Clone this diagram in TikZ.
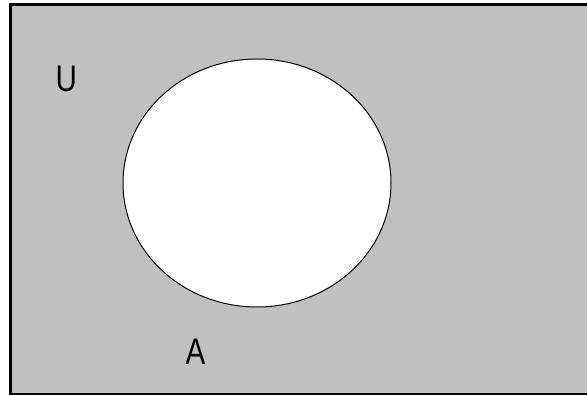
\documentclass[tikz,border=0pt]{standalone}
\usepackage{fontspec}
\setmainfont{Liberation Sans}
\usepackage{xcolor}
\usepackage{tikz}
\usetikzlibrary{positioning}

\definecolor{venngray}{RGB}{192,192,192}

\begin{document}
\begin{tikzpicture}[x=1pt, y=-1pt,
    setlabel/.style={inner sep=0pt, font=\fontsize{37}{37}\selectfont, xscale=0.8}]
    \useasboundingbox (0,0) rectangle (587,395);

    % universe
    \fill[white] (0,0) rectangle (587,395);
    \draw[line width=3pt, fill=venngray] (10.5,4.7) rectangle (600,394.2);

    % set A
    \draw[line width=1pt, fill=white] (257,183) ellipse (134 and 124);

    \node[setlabel] (U) at (66.3,78.5) {U};
    \node[setlabel] (A) at (195.5,352) {A};
\end{tikzpicture}
\end{document}
